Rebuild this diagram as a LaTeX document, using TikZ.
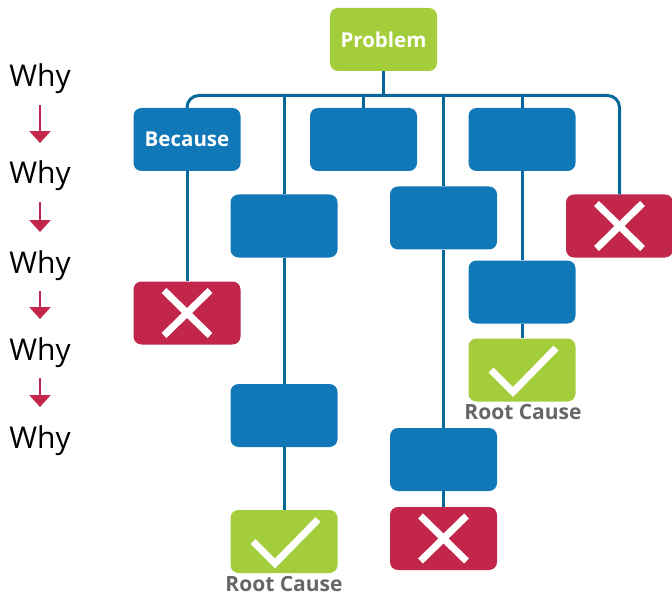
\documentclass[tikz,border=0pt]{standalone}
\usepackage{fontspec}
\setmainfont{Open Sans}
\usepackage{tikz}
\usetikzlibrary{positioning,arrows.meta,calc}
\definecolor{boxblue}{HTML}{1178B8}
\definecolor{okgreen}{HTML}{A3CD3B}
\definecolor{badred}{HTML}{C2264B}
\definecolor{linkblue}{HTML}{04699A}
\definecolor{rcgray}{HTML}{666666}

\begin{document}
\begin{tikzpicture}[x=1pt,y=-1pt,>=Triangle]
  \tikzset{
    box/.style={rounded corners=8pt,minimum width=107pt,minimum height=63pt,
                inner sep=0pt,font=\fontsize{20.5}{24}\selectfont\bfseries,text=white},
    blk/.style={box,fill=boxblue},
    okb/.style={box,fill=okgreen},
    nob/.style={box,fill=badred},
    lnk/.style={draw=linkblue,line width=3pt},
    mrk/.style={white,line width=7pt},
    whyt/.style={font=\fontsize{30}{36}\selectfont,inner sep=0pt},
    whyarr/.style={->,draw=badred,line width=2.5pt,shorten <=11pt,shorten >=18pt,
                   >={Triangle[width=21pt,length=12pt]}},
    rct/.style={font=\fontsize{21}{24}\selectfont\bfseries,text=rcgray,anchor=base,
                inner sep=0pt}
  }
  \useasboundingbox (0,0) rectangle (672,596);

  % Left: the why ladder
  \node[whyt,anchor=base] (w1) at (40,87)  {Why};
  \node[whyt,anchor=base] (w2) at (40,184) {Why};
  \node[whyt,anchor=base] (w3) at (40,273) {Why};
  \node[whyt,anchor=base] (w4) at (40,360) {Why};
  \node[whyt,anchor=base] (w5) at (40,448) {Why};
  \draw[whyarr] (w1.south) -- (w2.north);
  \draw[whyarr] (w2.south) -- (w3.north);
  \draw[whyarr] (w3.south) -- (w4.north);
  \draw[whyarr] (w4.south) -- (w5.north);

  % Tree
  \node[okb] (prob) at (383.5,39.5) {Problem};
  \coordinate (bus) at (383.5,95.5);
  \node[blk] (bec) at (187,139.5)   {Because};
  \node[blk] (t2)  at (363.5,139.5) {};
  \node[blk] (t3)  at (522,139.5)   {};
  \node[nob] (xr)  at (619.5,226)   {};
  \node[nob] (xl)  at (187,313)     {};
  \node[blk] (m1)  at (284,226)     {};
  \node[blk] (m2)  at (284,415.5)   {};
  \node[okb] (ok1) at (284,541.5)   {};
  \node[blk] (n1)  at (443.5,218)   {};
  \node[blk] (n2)  at (443.5,459.5) {};
  \node[nob] (xn)  at (443.5,538.5) {};
  \node[blk] (p1)  at (522,292)     {};
  \node[okb] (ok2) at (522,370)     {};
  \node[rct] (rc1) at (284,591) {Root Cause};
  \node[rct] (rc2) at (523,419) {Root Cause};

  % Connectors
  \draw[lnk,rounded corners=12pt] (bec.north) |- (bus) -| (xr.north);
  \draw[lnk] (prob.south) -- (bus);
  \draw[lnk] (t2.north |- bus) -- (t2.north);
  \draw[lnk] (bec.south) -- (xl.north);
  \draw[lnk] (m1.north |- bus) -- (m1.north);
  \draw[lnk] (m1.south) -- (m2.north);
  \draw[lnk] (m2.south) -- (ok1.north);
  \draw[lnk] (n1.north |- bus) -- (n1.north);
  \draw[lnk] (n1.south) -- (n2.north);
  \draw[lnk] (n2.south) -- (xn.north);
  \draw[lnk] (t3.north |- bus) -- (t3.north);
  \draw[lnk] (t3.south) -- (p1.north);
  \draw[lnk] (p1.south) -- (ok2.north);

  % Marks
  \foreach \b in {xl,xr,xn}{
    \draw[mrk] ($(\b)+(-23,-22.5)$) -- ($(\b)+(23,22.5)$);
    \draw[mrk] ($(\b)+(23,-22.5)$) -- ($(\b)+(-23,22.5)$);
  }
  \foreach \b in {ok1,ok2}
    \draw[mrk] ($(\b)+(-31,0)$) -- ($(\b)+(-9,22)$) -- ($(\b)+(34,-22)$);
\end{tikzpicture}
\end{document}
